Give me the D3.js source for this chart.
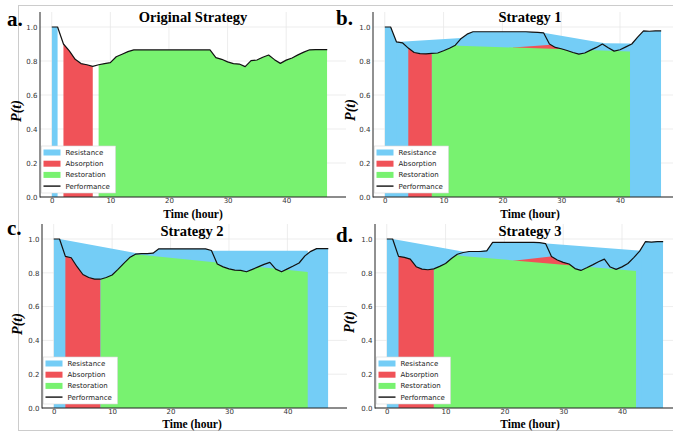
<!DOCTYPE html>
<html lang="en">
<head>
<meta charset="utf-8">
<title>Resilience strategies</title>
<script src="https://d3js.org/d3.v7.min.js"></script>
<style>
body { margin: 0; background: #fff; }
svg { display: block; }
.tick text { font-family: "DejaVu Sans", sans-serif; font-size: 7px; fill: #333; }
</style>
</head>
<body>
<script>
// hourly performance P(t), t = 0..47
var hours = d3.range(0, 48);

var perfA = [1.0, 1.0, 0.90, 0.86, 0.81, 0.785, 0.778, 0.768,
             0.778, 0.785, 0.79, 0.825, 0.84, 0.855, 0.865, 0.865,
             0.865, 0.865, 0.865, 0.865, 0.865, 0.865, 0.865, 0.865,
             0.865, 0.865, 0.865, 0.865, 0.82, 0.81, 0.795, 0.785,
             0.782, 0.767, 0.802, 0.806, 0.822, 0.835, 0.808, 0.786,
             0.805, 0.818, 0.836, 0.852, 0.866, 0.867, 0.867, 0.867];

var perfB = [1.0, 1.0, 0.912, 0.907, 0.876, 0.85, 0.843, 0.842,
             0.845, 0.847, 0.86, 0.875, 0.893, 0.933, 0.958, 0.972,
             0.972, 0.972, 0.972, 0.972, 0.972, 0.972, 0.972, 0.972,
             0.972, 0.97, 0.968, 0.966, 0.9, 0.88, 0.872, 0.862,
             0.85, 0.84, 0.847, 0.864, 0.88, 0.9, 0.878, 0.858,
             0.866, 0.883, 0.9, 0.94, 0.977, 0.975, 0.977, 0.977];

var perfC = [1.0, 1.0, 0.897, 0.889, 0.836, 0.79, 0.772, 0.763,
             0.762, 0.772, 0.787, 0.82, 0.856, 0.89, 0.91, 0.914,
             0.914, 0.916, 0.942, 0.942, 0.942, 0.942, 0.942, 0.942,
             0.942, 0.942, 0.942, 0.932, 0.852, 0.835, 0.823, 0.816,
             0.814, 0.806, 0.82, 0.835, 0.85, 0.862, 0.822, 0.806,
             0.823, 0.84, 0.858, 0.9, 0.927, 0.943, 0.943, 0.943];

var perfD = [1.0, 1.0, 0.897, 0.891, 0.881, 0.836, 0.822, 0.818,
             0.823, 0.838, 0.855, 0.885, 0.91, 0.92, 0.926, 0.926,
             0.926, 0.93, 0.98, 0.98, 0.98, 0.98, 0.98, 0.98,
             0.98, 0.98, 0.978, 0.973, 0.897, 0.876, 0.862, 0.852,
             0.825, 0.814, 0.83, 0.847, 0.865, 0.881, 0.834, 0.82,
             0.835, 0.855, 0.89, 0.928, 0.985, 0.982, 0.985, 0.985];

// resistance: spans under the curve + straight reference lines [t, P]
var resistSpansA = [[0, 1]];
var resistSpansB = [[0, 47]];
var resistSpansC = [[0, 47]];
var resistSpansD = [[0, 47]];
var resistLineB = [[2, 0.912], [27, 0.966], [37.4, 0.905], [41.8, 0.903]];
var resistLineC = [[1, 1.0], [14.7, 0.912], [27, 0.93], [43.5, 0.93]];
var resistLineD = [[1, 1.0], [13.6, 0.921], [27.2, 0.973], [43.3, 0.93]];

// absorption: span under the curve + optional wedge [t, P]
var absorbSpanA = [2, 7];
var absorbSpanB = [4, 8];
var absorbSpanC = [2, 8];
var absorbSpanD = [2, 8];
var absorbWedgeB = [[21.8, 0.879], [28.3, 0.895], [33, 0.89]];
var absorbWedgeD = [[21.5, 0.871], [27.9, 0.897], [33, 0.89]];

// restoration: span + optional cap line [t, P]
var restoreSpanA = [8, 47];
var restoreSpanB = [8, 41.7];
var restoreSpanC = [8, 43.5];
var restoreSpanD = [8, 42.4];
var restoreCapB = [[8, 0.93], [12.5, 0.89], [41.7, 0.856]];
var restoreCapC = [[8, 0.932], [14, 0.91], [43.5, 0.805]];
var restoreCapD = [[8, 0.93], [12.8, 0.9], [42.4, 0.81]];

var titles = ["Original Strategy", "Strategy 1", "Strategy 2", "Strategy 3"];
var letters = ["a.", "b.", "c.", "d."];
var xTicks = [0, 10, 20, 30, 40];
var yTicks = [0, 0.2, 0.4, 0.6, 0.8, 1.0];
var legendLabels = ["Resistance", "Absorption", "Restoration", "Performance"];

var colors = {resist: "#74cdf6", absorb: "#f05258", restore: "#78f270"};

var panels = [
  {perf: perfA, rSpans: resistSpansA, rLine: null, aSpan: absorbSpanA, aWedge: null, gSpan: restoreSpanA, gCap: null},
  {perf: perfB, rSpans: resistSpansB, rLine: resistLineB, aSpan: absorbSpanB, aWedge: absorbWedgeB, gSpan: restoreSpanB, gCap: restoreCapB},
  {perf: perfC, rSpans: resistSpansC, rLine: resistLineC, aSpan: absorbSpanC, aWedge: null, gSpan: restoreSpanC, gCap: restoreCapC},
  {perf: perfD, rSpans: resistSpansD, rLine: resistLineD, aSpan: absorbSpanD, aWedge: absorbWedgeD, gSpan: restoreSpanD, gCap: restoreCapD}
];

var layout = [
  {left: 40, right: 346, top: 27, bottom: 197, titleX: 193, titleY: 21.5, letX: 7, letY: 25.5, ylabX: 16, ylabY: 111, xlabY: 217.5},
  {left: 373, right: 680, top: 27, bottom: 197, titleX: 530, titleY: 21.5, letX: 336, letY: 25, ylabX: 350, ylabY: 110, xlabY: 217.5},
  {left: 42, right: 347, top: 239, bottom: 408, titleX: 192, titleY: 236, letX: 7, letY: 235, ylabX: 17, ylabY: 324, xlabY: 427.5},
  {left: 375, right: 682, top: 239, bottom: 408, titleX: 530, titleY: 236, letX: 336, letY: 241.5, ylabX: 349, ylabY: 322, xlabY: 427.5}
];

var W = 673, H = 434;
var svg = d3.select("body").append("svg").attr("width", W).attr("height", H);
var defs = svg.append("defs");

// faint frames of the sub-figures
var frame = svg.append("g").attr("stroke", "#cccccc").attr("stroke-width", 1).attr("fill", "none");
frame.append("line").attr("x1", 18).attr("x2", W).attr("y1", 5.5).attr("y2", 5.5);
frame.append("line").attr("x1", 18.5).attr("x2", 18.5).attr("y1", 5).attr("y2", 430);
frame.append("line").attr("x1", 18).attr("x2", W).attr("y1", 430.5).attr("y2", 430.5);

panels.forEach(function(p, k) {
  var L = layout[k];
  var x = d3.scaleLinear().domain([-2, 50.2]).range([L.left, L.right]);
  var y = d3.scaleLinear().domain([0, 1]).range([L.bottom, L.top]);
  var g = svg.append("g");

  var pts = hours.map(function(h, i) { return [h, p.perf[i]]; });
  var area = d3.area().x(function(d) { return x(d[0]); }).y0(y(0)).y1(function(d) { return y(d[1]); });
  var line = d3.line().x(function(d) { return x(d[0]); }).y(function(d) { return y(d[1]); });

  // grid
  g.append("g").selectAll("line").data(xTicks).join("line")
    .attr("x1", function(d) { return x(d); }).attr("x2", function(d) { return x(d); })
    .attr("y1", L.top - 15).attr("y2", L.bottom)
    .attr("stroke", "#e8e8e8").attr("stroke-width", 0.8);
  g.append("g").selectAll("line").data(yTicks).join("line")
    .attr("x1", L.left).attr("x2", L.right)
    .attr("y1", function(d) { return y(d); }).attr("y2", function(d) { return y(d); })
    .attr("stroke", "#e8e8e8").attr("stroke-width", 0.8);

  // clip: area under the performance curve
  defs.append("clipPath").attr("id", "perf" + k).append("path").attr("d", area(pts));

  function spanClip(id, span) {
    defs.append("clipPath").attr("id", id).append("rect")
      .attr("x", x(span[0])).attr("width", x(span[1]) - x(span[0]))
      .attr("y", 0).attr("height", H);
    return "url(#" + id + ")";
  }

  // resistance
  p.rSpans.forEach(function(s, j) {
    g.append("g").attr("clip-path", spanClip("rs" + k + "_" + j, s))
      .append("path").attr("d", area(pts)).attr("fill", colors.resist);
  });
  if (p.rLine) {
    g.append("path").attr("d", area(p.rLine)).attr("fill", colors.resist);
  }

  // absorption
  g.append("g").attr("clip-path", spanClip("as" + k, p.aSpan))
    .append("path").attr("d", area(pts)).attr("fill", colors.absorb);
  if (p.aWedge) {
    g.append("g").attr("clip-path", "url(#perf" + k + ")")
      .append("path").attr("d", area(p.aWedge)).attr("fill", colors.absorb);
  }

  // restoration
  var gs = g.append("g").attr("clip-path", spanClip("gs" + k, p.gSpan));
  if (p.gCap) {
    defs.append("clipPath").attr("id", "gc" + k).append("path").attr("d", area(p.gCap));
    gs = gs.append("g").attr("clip-path", "url(#gc" + k + ")");
  }
  gs.append("path").attr("d", area(pts)).attr("fill", colors.restore);

  // performance
  g.append("path").attr("d", line(pts)).attr("fill", "none")
    .attr("stroke", "#111").attr("stroke-width", 1.2).attr("stroke-linejoin", "round");

  // axes
  var ya = g.append("g").attr("transform", "translate(" + L.left + ",0)")
    .call(d3.axisLeft(y).tickValues(yTicks).tickFormat(d3.format(".1f")).tickSize(0).tickPadding(2.5));
  ya.select(".domain").remove();
  var xa = g.append("g").attr("transform", "translate(0," + L.bottom + ")")
    .call(d3.axisBottom(x).tickValues(xTicks).tickSize(0).tickPadding(1));
  xa.select(".domain").remove();
  g.append("line").attr("x1", L.left).attr("x2", L.left).attr("y1", L.top - 15).attr("y2", L.bottom + 0.5)
    .attr("stroke", "#222").attr("stroke-width", 1);
  g.append("line").attr("x1", L.left).attr("x2", L.right).attr("y1", L.bottom).attr("y2", L.bottom)
    .attr("stroke", "#222").attr("stroke-width", 1);

  // legend
  var lg = g.append("g").attr("transform", "translate(" + (L.left + 1.5) + "," + (L.bottom - 51) + ")");
  lg.append("rect").attr("width", 74).attr("height", 47).attr("fill", "#fff").attr("stroke", "#d8d8d8").attr("stroke-width", 0.6);
  var legColors = [colors.resist, colors.absorb, colors.restore, null];
  legendLabels.forEach(function(lab, i) {
    var yy = 6.5 + i * 11.2;
    if (legColors[i]) {
      lg.append("rect").attr("x", 2).attr("y", yy - 3).attr("width", 17).attr("height", 6).attr("fill", legColors[i]);
    } else {
      lg.append("line").attr("x1", 2).attr("x2", 19).attr("y1", yy).attr("y2", yy).attr("stroke", "#111").attr("stroke-width", 1.4);
    }
    lg.append("text").attr("x", 24).attr("y", yy + 2.5).text(lab)
      .attr("font-family", "DejaVu Sans, sans-serif").attr("font-size", "7px").attr("fill", "#222");
  });

  // texts
  g.append("text").attr("x", L.titleX).attr("y", L.titleY).attr("text-anchor", "middle").text(titles[k])
    .attr("font-family", "Liberation Serif, serif").attr("font-weight", "bold").attr("font-size", "14.5px");
  g.append("text").attr("x", L.titleX).attr("y", L.xlabY).attr("text-anchor", "middle").text("Time (hour)")
    .attr("font-family", "Liberation Serif, serif").attr("font-weight", "bold").attr("font-size", "11.5px");
  g.append("text").attr("x", L.letX).attr("y", L.letY).text(letters[k])
    .attr("font-family", "Liberation Serif, serif").attr("font-weight", "bold").attr("font-size", "21px");
  var yl = g.append("text").attr("transform", "translate(" + (L.ylabX + 4.5) + "," + L.ylabY + ") rotate(-90)")
    .attr("text-anchor", "middle")
    .attr("font-family", "Liberation Serif, serif").attr("font-weight", "bold").attr("font-style", "italic").attr("font-size", "14px");
  yl.append("tspan").text("P(");
  yl.append("tspan").text("t");
  yl.append("tspan").text(")");
});
</script>
</body>
</html>
